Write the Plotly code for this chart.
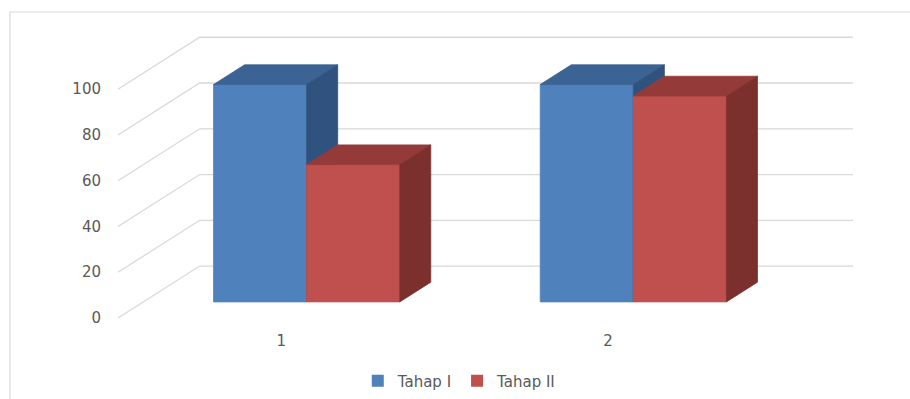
import plotly.graph_objects as go

# ---- data ----
categories = [1, 2]
category_labels = ["1", "2"]
series_names = ["Tahap I", "Tahap II"]
tahap1 = [95, 95]
tahap2 = [60, 90]
y_ticks = [0, 20, 40, 60, 80, 100]

series_values = [tahap1, tahap2]

# ---- style / projection ----
front_colors = ["#4F81BD", "#C0504D"]
top_colors = ["#3B6393", "#943B39"]
side_colors = ["#30527E", "#7B302E"]
grid_color = "#D9D9D9"
text_color = "#595959"
FONT = "DejaVu Sans"

DEPTH_X = 0.25   # depth shift in category units
DEPTH_Y = 22.7   # depth shift in value units
BAR_W = 0.285
D0, D1 = 0.31, 0.69
X_MIN, X_MAX = 0.5, 2.5


def proj(c, v, d):
    return c + d * DEPTH_X, v + d * DEPTH_Y


def poly(points):
    xs, ys = zip(*[proj(*p) for p in points])
    return list(xs) + [xs[0]], list(ys) + [ys[0]]


fig = go.Figure()

# gridlines: left wall diagonals + back wall lines
for v in y_ticks:
    p0 = proj(X_MIN, v, 0)
    p1 = proj(X_MIN, v, 1)
    p2 = proj(X_MAX, v, 1)
    fig.add_trace(go.Scatter(x=[p0[0], p1[0], p2[0]], y=[p0[1], p1[1], p2[1]],
                             mode="lines", line=dict(color=grid_color, width=1.3),
                             hoverinfo="skip", showlegend=False))

# 3D bars
for ci, c in enumerate(categories):
    for si, vals in enumerate(series_values):
        v = vals[ci]
        x0 = c - BAR_W + si * BAR_W
        x1 = x0 + BAR_W
        faces = [
            ([(x0, 0, D0), (x1, 0, D0), (x1, v, D0), (x0, v, D0)], front_colors[si]),
            ([(x0, v, D0), (x1, v, D0), (x1, v, D1), (x0, v, D1)], top_colors[si]),
            ([(x1, 0, D0), (x1, 0, D1), (x1, v, D1), (x1, v, D0)], side_colors[si]),
        ]
        for pts, col in faces:
            xs, ys = poly(pts)
            fig.add_trace(go.Scatter(x=xs, y=ys, mode="lines", fill="toself",
                                     fillcolor=col, line=dict(color=col, width=0.8),
                                     hoverinfo="skip", showlegend=False))

# legend entries
for si, name in enumerate(series_names):
    fig.add_trace(go.Scatter(x=[None], y=[None], mode="markers", name=name,
                             marker=dict(symbol="square", size=12, color=front_colors[si])))

fig.update_layout(
    width=910, height=399,
    margin=dict(l=118, r=57, t=32, b=81, autoexpand=False),
    paper_bgcolor="white", plot_bgcolor="white",
    font=dict(family=FONT, color=text_color, size=14),
    showlegend=True,
    legend=dict(orientation="h", x=0.465, y=-0.22, xanchor="center", yanchor="middle",
                font=dict(size=15, color=text_color), itemsizing="constant",
                itemwidth=30),
    xaxis=dict(range=[X_MIN, X_MAX + DEPTH_X], tickvals=categories, ticktext=category_labels,
               showgrid=False, zeroline=False, showline=False, ticks="",
               ticklabelstandoff=12, tickfont=dict(size=15, color=text_color)),
    yaxis=dict(range=[0, 125], tickvals=y_ticks, showgrid=False, zeroline=False,
               showline=False, ticks="", ticklabelstandoff=16,
               tickfont=dict(size=15, color=text_color)),
    shapes=[dict(type="rect", xref="paper", yref="paper", x0=-0.147, x1=1.2,
                 y0=-0.5, y1=1.07, line=dict(color="#D9D9D9", width=1.2),
                 fillcolor="rgba(0,0,0,0)", layer="below")],
)

fig.write_html("out.html")
